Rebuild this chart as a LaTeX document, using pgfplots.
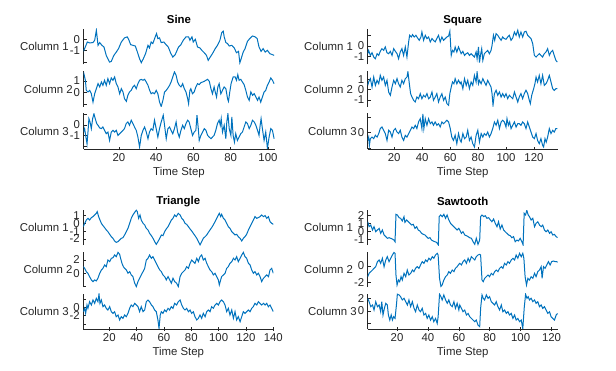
\documentclass[border=0pt]{standalone}
\usepackage{fontspec}
\setmainfont{Liberation Sans}
\usepackage{pgfplots}
\pgfplotsset{compat=1.18}
\definecolor{axgray}{RGB}{38,38,38}
\definecolor{mblue}{RGB}{0,114,189}
\newcommand\fsz{\fontsize{11.4bp}{13bp}\selectfont}
\pgfplotsset{
 row/.style={scale only axis, axis y line=left, tick align=inside, major tick length=3bp,
   axis line style={-, draw=axgray, line width=0.6bp},
   major tick style={draw=axgray, line width=0.6bp},
   ticklabel style={font=\fsz, text=axgray},
   every axis y label/.style={at={(ticklabel cs:0.5)}, anchor=east, inner sep=0.5bp, xshift=3bp, font=\fsz, text=axgray},
   xlabel style={font=\fsz, text=axgray, yshift=2bp},
   every axis title/.style={font=\fsz\bfseries, text=black, at={(0.5,1)}, anchor=base, yshift=5bp}},
 upper/.style={axis x line=none, xtick=\empty},
 lower/.style={axis x line=bottom, xlabel={Time Step}, x axis line style={-},
   every outer x axis line/.append style={-}, every inner x axis line/.append style={-}},
 ln/.style={color=mblue, line width=1bp, mark=none},
 sine/.style={xmin=1, xmax=103.5, width=191bp, height=35.5bp},
 square/.style={xmin=1, xmax=137, width=190bp, height=35.5bp},
 tri/.style={xmin=1, xmax=140, width=190bp, height=35.2bp},
 saw/.style={xmin=1, xmax=124, width=190bp, height=35.2bp},
}
\begin{document}
\begin{tikzpicture}
\useasboundingbox (0,0) rectangle (616bp,371bp);
% ---------------- Sine ----------------
\begin{axis}[row, sine, upper, at={(83.5bp,306.5bp)}, anchor=south west,
  ymin=-2.21, ymax=0.9, ytick={-2,-1,0}, yticklabels={,-1,0}, ylabel={Column 1}, title={Sine}]
\addplot[ln] coordinates {(1,-1.06)(3.05,-0.24)(4.3,-0.32)(6.1,-0.29)(7,-0.09)(7.9,0.79)(8.8,-0.53)(9.7,-0.29)(10.9,-0.53)(12,-0.68)(13.2,-1.41)(15,-2.0)(15.9,-1.94)(17.3,-1.41)(18.6,-1.12)(19.8,-0.82)(21.3,-0.24)(23,0.12)(24.5,0.21)(25.2,0)(26.3,-0.47)(27.5,-0.53)(28.8,-0.59)(29.8,-1.06)(31.1,-1.71)(32,-2.05)(33.1,-1.71)(34.3,-1.26)(35.6,-0.53)(36.4,-0.76)(37.3,-0.24)(38.2,-0.38)(39.5,0.21)(40.2,0.5)(40.9,0.06)(41.8,0.12)(42.7,-0.29)(44.1,-0.24)(45.3,-0.47)(46.5,-0.68)(47.7,-1.18)(48.9,-1.56)(50.2,-1.35)(52,-0.68)(53.3,-0.47)(54.5,-0.09)(56,0.21)(57.4,0.21)(58.1,-0.09)(59.2,0.21)(59.9,-0.24)(61,0)(62.2,-0.68)(63.5,-0.76)(64.5,-0.97)(65.8,-1.18)(67,-1.41)(67.9,-1.85)(69,-1.56)(70.2,-1.26)(71.7,-0.82)(72.9,-0.53)(74.2,-0.09)(75.2,0.59)(76,0.71)(76.5,0.21)(77.4,-0.29)(78.3,-0.38)(79.2,-0.59)(80.6,-0.53)(81.9,-0.76)(83.1,-1.18)(84.2,-1.06)(84.9,-2.05)(85.6,-1.71)(86.7,-1.12)(87.7,-0.82)(89,-0.18)(90.2,0.06)(91.7,0.29)(93.1,0.21)(94.2,0.06)(95.2,-0.68)(96.3,-1.06)(97.4,-0.82)(98.5,-1.12)(99.7,-0.97)(101,-1.26)(102.4,-1.35)(103.3,-1.41)};
\end{axis}
\begin{axis}[row, sine, upper, at={(83.5bp,264.25bp)}, anchor=south west,
  ymin=-1.2, ymax=1.83, ytick={-1,0,1}, yticklabels={,0,1}, ylabel={Column 2}]
\addplot[ln] coordinates {(1,1.77)(2,1.06)(2.5,0.2)(3.4,0.06)(4.3,0.2)(5.2,-0.09)(6.1,-0.8)(7,-0.09)(7.9,0.34)(8.8,0.77)(9.7,0.49)(10.6,0.91)(11.4,0.63)(12.3,1.06)(13.2,0.63)(14.1,1.2)(15,0.77)(15.9,1.26)(16.8,1.06)(17.7,1.34)(18.6,0.77)(19.5,0.49)(20.4,-0.09)(21.3,0.34)(22.2,0.06)(23,-0.51)(24,-0.74)(24.8,-0.23)(25.7,0.06)(26.6,0.2)(27.5,0.49)(28.4,0.63)(29.3,0.34)(30.2,0.77)(31.1,1.06)(32,1.14)(32.9,1.06)(33.8,1.14)(34.7,0.91)(35.6,0.63)(36.5,0.2)(37.3,-0.09)(38.2,0)(39.1,-0.09)(40,0.2)(40.9,-0.09)(41.8,-0.8)(42.7,-1.18)(43.6,-0.66)(44.5,0.06)(45.4,0.2)(46.3,0.4)(47.2,0.63)(48,0.91)(48.9,1.34)(49.8,1.77)(50.7,1.49)(51.5,0.91)(52.4,0.63)(53.3,0.49)(54.2,0.77)(55.1,0.34)(56,0.06)(56.9,-0.51)(57.4,-0.94)(58.1,0.2)(58.6,0.34)(59.5,-0.09)(60.4,0.06)(61.3,0.49)(62.2,0.77)(63.1,0.69)(64,0.86)(64.9,0.91)(65.8,0.97)(66.7,1.06)(67.6,1.14)(68.5,0.97)(69.4,0.34)(70.2,-0.09)(71.1,0.49)(71.7,0.06)(72.4,-0.37)(73.1,0.49)(73.8,0.77)(74.7,-0.09)(75.6,0.2)(76.5,0.49)(77.4,0.34)(78.3,-0.51)(78.8,-0.74)(79.5,0.06)(80.2,0.77)(81.3,1.34)(82.4,1.34)(83.1,1.06)(83.8,1.54)(84.5,1.06)(85.4,1.14)(86.3,0.91)(87.2,0.69)(88.1,0.2)(89,-0.37)(89.9,-0.66)(90.8,0.06)(91.7,-0.23)(92.6,-0.09)(93.5,-0.37)(94.4,-0.66)(95.2,-0.37)(96.1,-0.8)(97,-0.37)(97.9,0.06)(98.8,0.2)(99.7,0.63)(100.6,0.91)(101.5,1.26)(102.4,1.06)(103.3,0.77)};
\end{axis}
\begin{axis}[row, sine, lower, at={(83.5bp,222bp)}, anchor=south west,
  ymin=-2.24, ymax=1.07, ytick={-2,-1,0,1}, yticklabels={,-1,0,}, ylabel={Column 3},
  xtick={20,40,60,80,100}, xticklabels={20,40,60,80,100}]
\addplot[ln] coordinates {(1,-0.66)(1.6,-0.34)(2.3,-1.13)(2.9,-1.75)(3.4,-0.66)(3.9,0.59)(4.5,0.28)(5.2,-0.34)(5.9,0.59)(6.6,1.04)(7.3,0.59)(8.1,0.13)(8.8,-0.03)(9.7,-0.28)(10.6,-0.34)(11.4,-0.19)(12.3,-0.5)(13.2,-0.81)(14.1,-0.66)(15,-1.44)(15.9,-0.66)(16.8,-0.5)(17.7,-0.66)(18.6,-0.5)(19.5,-0.97)(20.4,-0.81)(21.3,-0.66)(22.2,-0.5)(23,-0.34)(23.9,0.13)(24.8,0.28)(25.7,-0.03)(26.6,0.44)(27.5,0.13)(28.4,-0.19)(29.3,-0.5)(30.2,-1.13)(31.1,-2.06)(32,-0.97)(32.9,-0.5)(33.8,-0.19)(34.7,-0.66)(35.6,-1.28)(36.4,-0.66)(37.3,-0.34)(38.2,-0.5)(39.1,0.44)(40,-0.34)(40.9,-1.13)(41.8,-0.34)(42.7,0.28)(43.8,0.91)(44.5,-0.03)(45.4,-1.28)(46.3,-0.34)(47.2,-0.19)(48,-0.5)(48.9,-0.81)(49.8,-0.34)(50.7,0.28)(51.5,-0.66)(52.4,-1.13)(53.3,-0.5)(54.2,-0.03)(55.1,-0.34)(56,0.13)(56.9,0.44)(57.7,0.28)(58.6,-0.34)(59.5,-0.97)(60.4,-0.66)(61.3,-0.5)(61.9,0.91)(62.6,-0.34)(63.1,-1.44)(64,-0.97)(64.9,-0.66)(65.8,-0.34)(66.7,-0.5)(67.6,-0.97)(68.5,-1.13)(69.4,-1.28)(70.2,-1.13)(71.1,-0.97)(72,-0.5)(72.9,0.13)(73.8,0.44)(74.4,-0.03)(74.9,0.59)(75.6,-0.66)(76.5,-0.03)(77.4,-1.28)(77.9,0.28)(78.5,1.04)(79.2,-0.34)(80.1,-0.97)(80.6,0.75)(81.3,-0.97)(82,-1.59)(82.7,-0.81)(83.6,-1.44)(84.5,-1.13)(85.4,-0.81)(86.3,-0.66)(87.2,-0.19)(88.1,0.28)(89,0.13)(89.9,-0.34)(90.8,-0.03)(91.7,0.44)(92.6,0.28)(93.5,-0.03)(94.4,-0.5)(95.2,-0.97)(95.8,-0.03)(96.3,0.59)(97,-0.34)(97.9,-1.44)(98.8,-0.66)(99.7,-2.2)(100.6,-1.13)(101.5,-0.34)(102.4,-0.5)(103.3,-1.28)};
\end{axis}
% ---------------- Square ----------------
\begin{axis}[row, square, upper, at={(367.7bp,306.5bp)}, anchor=south west,
  ymin=-1.73, ymax=1.59, ytick={-1,0,1}, yticklabels={-1,0,}, ylabel={Column 1}, title={Square}]
\addplot[ln] coordinates {(1,-0.72)(1.7,-0.41)(2.9,-0.88)(4.1,-0.63)(5.3,-1.03)(6.5,-1.19)(7.7,-0.72)(8.9,-0.88)(10,-0.5)(11.2,-0.25)(12.4,-0.41)(13.6,-0.09)(14.8,-0.63)(16,-0.72)(17.2,-0.5)(18.4,-0.88)(19.6,-0.25)(20.8,-0.5)(22,-0.72)(23.1,-1.19)(24.3,-0.56)(25.5,-0.25)(26.7,-0.88)(27.9,-0.09)(29.1,-1.03)(30.3,0.38)(31,1.0)(32.2,0.84)(33.1,1.06)(34.3,0.84)(35.5,1.0)(36.7,0.75)(37.9,0.53)(39.1,0.84)(39.8,1.31)(41,0.53)(42.2,1.0)(43.4,0.69)(44.6,0.84)(45.8,0.38)(47,0.69)(48.1,0.53)(49.3,0.38)(50.5,0.69)(51.7,1.0)(52.9,0.38)(54.1,0.84)(55.3,0.53)(56.5,0.69)(57.7,0.84)(58.9,0.94)(59.8,1.38)(60.8,-0.88)(61.7,-0.41)(62.7,-0.56)(63.6,-0.09)(64.8,-0.56)(66,-0.09)(67.9,-0.72)(69.1,-0.5)(70.3,-0.88)(71.5,-0.72)(72.6,-0.63)(73.8,-0.88)(75,-0.72)(76.2,-0.88)(77.4,-1.03)(78.6,-0.56)(79.3,-1.19)(80.3,-0.09)(81,-1.56)(81.7,-0.88)(82.6,-0.25)(83.4,-1.34)(84.5,-0.72)(85.7,-0.56)(86.9,-0.41)(88.1,-0.72)(89.3,-0.41)(90,0.06)(91,1.0)(91.9,0.53)(92.9,1.16)(94.1,1.0)(95.3,0.75)(96.5,0.53)(97.6,0.84)(98.8,0.69)(100,0.63)(101.2,0.84)(102.4,1.0)(103.6,0.53)(104.8,0.75)(106,1.31)(107.2,1.0)(108.4,1.47)(109.5,0.84)(110.7,1.31)(111.9,0.84)(113.1,1.31)(114.3,1.38)(115.5,1.0)(116.7,0.84)(117.9,0.69)(119.1,0.22)(120.3,-0.88)(121.5,-1.03)(122.6,-0.88)(123.8,-0.72)(125,-0.88)(126.2,-1.03)(127.4,-0.72)(128.6,-0.56)(129.8,-0.25)(131,-0.88)(132.2,-0.56)(133.4,-0.41)(134.5,-0.88)(135.7,-1.34)(136.7,-1.5)};
\end{axis}
\begin{axis}[row, square, upper, at={(367.7bp,264.25bp)}, anchor=south west,
  ymin=-1.67, ymax=1.77, ytick={-1,0,1}, yticklabels={-1,0,1}, ylabel={Column 2}]
\addplot[ln] coordinates {(1,0.4)(1.7,0.73)(2.9,1.05)(4.1,0.24)(5.3,1.21)(6.5,0.4)(7.7,0.89)(8.9,0.56)(10,1.37)(11.2,0.89)(12.4,1.21)(13.6,0.4)(14.8,0.89)(16,-0.24)(17.2,-0.56)(18.4,0.24)(19.6,0.89)(20.8,0.56)(22,1.05)(23.1,0.56)(24.3,0.24)(25.5,0.89)(26.7,0.56)(27.9,1.05)(29.1,1.21)(29.8,1.72)(30.8,0.56)(31.7,-0.4)(32.7,-0.73)(33.9,-1.05)(35,-1.21)(36.2,-0.73)(37.4,-0.89)(38.6,-0.4)(39.8,-0.89)(41,-0.56)(42.2,-0.73)(43.4,-0.4)(44.6,-0.89)(45.8,-0.73)(47,-0.24)(48.1,-1.05)(49.3,-0.73)(50.5,-0.4)(51.7,-1.21)(52.9,-0.73)(54.1,-0.4)(55.3,-1.05)(56.5,-0.73)(57.7,-1.37)(58.9,-1.53)(59.8,-0.4)(60.8,0.24)(61.7,0.73)(62.7,0.56)(63.6,1.05)(64.8,0.56)(66,0.89)(67.2,0.56)(67.9,0.73)(69.1,0.08)(70.3,1.05)(71.5,0.4)(72.6,0.89)(73.8,0.08)(75,0.73)(76.2,0.4)(77.4,1.37)(78.6,0.73)(79.3,1.69)(80.3,0.56)(81,0.89)(82.2,0.56)(83.4,1.05)(84.5,0.73)(85.7,0.4)(86.9,0.89)(88.1,0.56)(89.3,0.24)(90,-0.4)(90.7,-1.53)(91.7,-0.4)(92.9,-0.08)(94.1,-0.56)(95.3,-0.24)(96.5,-0.73)(97.6,-0.4)(98.8,-0.73)(100,-0.4)(101.2,-0.89)(102.4,-0.56)(103.6,-0.73)(104.8,-0.89)(106,-0.24)(107.2,-0.73)(108.4,-1.21)(109.5,-0.73)(110.7,-0.4)(111.9,-0.89)(113.1,-0.4)(114.3,-0.08)(115.5,-0.4)(116.7,-1.05)(117.4,-1.37)(118.4,-0.56)(119.8,0.08)(120.7,0.56)(121.5,1.21)(122.6,0.73)(123.8,1.37)(125,0.56)(126.2,1.37)(127.4,0.4)(128.6,0.56)(129.8,0.89)(131,1.37)(132.2,0.73)(133.4,0.08)(134.5,-0.08)(135.7,0.08)(136.7,0.08)};
\end{axis}
\begin{axis}[row, square, lower, at={(367.7bp,222bp)}, anchor=south west,
  ymin=-1.04, ymax=1.22, ytick={-1,0,1}, yticklabels={,0,}, ylabel={Column 3},
  xtick={20,40,60,80,100,120}, xticklabels={20,40,60,80,100,120}]
\addplot[ln] coordinates {(1,-0.49)(1.7,-0.28)(2.2,-0.81)(2.9,-0.38)(4.1,-0.28)(5.3,-0.38)(6.5,-0.17)(7.7,-0.28)(8.9,-0.06)(10,0.26)(11.2,0.36)(12.4,0.15)(13.6,-0.06)(14.8,-0.49)(16,0.15)(17.2,0.04)(18.4,-0.28)(19.6,0.15)(20.8,0.26)(22,0.04)(23.1,-0.06)(24.3,0.15)(25.5,-0.28)(26.7,-0.49)(27.9,-0.17)(29.1,-0.28)(30.3,-0.06)(31.5,0.15)(32.7,0.36)(33.9,0.26)(35,0.47)(36.2,0.26)(37.4,0.68)(38.6,0.89)(39.8,0.26)(40.5,1.2)(41.2,0.26)(42.2,0.89)(43.4,0.47)(44.6,0.89)(45.8,0.57)(47,0.68)(48.1,0.47)(49.3,0.68)(50.5,0.47)(51.7,0.57)(52.9,0.36)(54.1,0.68)(55.3,0.57)(56.5,0.68)(57.7,0.79)(58.9,0.68)(60.1,0.26)(61.2,-0.28)(62.4,-0.49)(63.6,-0.17)(64.8,-0.7)(66,-0.06)(67.2,-0.49)(67.9,-0.6)(69.1,-0.06)(70.3,-0.38)(71.5,-0.28)(72.6,0.15)(73.8,-0.49)(75,-0.28)(76.2,-0.7)(77.4,-0.91)(78.6,-0.17)(79.8,0.15)(81,-0.6)(82.2,-0.06)(83.4,-0.28)(84.5,-0.06)(85.7,-0.17)(86.9,0.04)(88.1,-0.28)(89.3,-0.06)(90.5,0.26)(91.7,0.68)(92.9,0.47)(94.1,0.79)(95.3,0.26)(96.5,0.68)(97.6,0.79)(98.8,0.68)(100,0.36)(100.7,0.89)(101.7,0.47)(102.6,0.68)(103.6,0.26)(104.8,0.47)(106,0.68)(107.2,0.36)(108.4,0.57)(109.5,0.57)(110.7,0.47)(111.9,0.68)(113.1,0.57)(114.3,0.26)(115.5,0.68)(116.7,0.36)(117.9,0.04)(119.1,-0.28)(120.3,-0.38)(121.5,-0.06)(122.6,-0.49)(123.8,-0.7)(125,-0.38)(126.2,-0.81)(126.9,-0.91)(127.9,-0.38)(128.8,-0.6)(129.8,-0.28)(131,0.26)(132.2,-0.06)(133.4,0.15)(134.5,0.04)(135.7,0.26)(136.7,0.26)};
\end{axis}
% ---------------- Triangle ----------------
\begin{axis}[row, tri, upper, at={(83.3bp,125.8bp)}, anchor=south west,
  ymin=-2.82, ymax=1.75, ytick={-2,-1,0,1}, yticklabels={-2,-1,0,1}, ylabel={Column 1}, title={Triangle}]
\addplot[ln] coordinates {(1,-0.41)(2,0.02)(3.2,0.45)(4.4,0.67)(5.6,0.45)(6.9,0.76)(8.1,0.89)(9.3,1.1)(10.5,1.32)(11.2,1.54)(12.2,0.89)(13.2,0.45)(14.2,0.02)(15.4,-0.28)(16.6,-0.54)(17.8,-0.84)(19,-1.06)(20.3,-1.41)(21.5,-1.71)(22.7,-1.93)(23.9,-2.27)(25.1,-2.45)(26.4,-2.36)(27.6,-2.14)(28.8,-1.93)(30,-1.84)(31.2,-1.49)(32.5,-1.06)(33.7,-0.63)(34.9,0.02)(36.1,0.67)(37.3,1.1)(38.6,1.45)(39.8,1.72)(40.5,1.54)(41.5,0.67)(42.5,1.1)(43.4,0.45)(44.7,0.02)(45.9,-0.19)(47.1,-0.63)(48.3,-0.84)(49.5,-1.28)(50.8,-1.58)(52,-1.93)(53.2,-2.36)(54.4,-2.71)(55.6,-2.36)(56.9,-1.93)(58.1,-1.49)(59.3,-1.58)(60.5,-1.06)(61.7,-0.71)(63,-0.41)(64.2,0.02)(65.4,0.45)(66.6,0.67)(67.8,1.1)(69,0.89)(70.5,1.32)(71.8,1.1)(73,0.67)(74.2,0.45)(75.4,0.02)(76.6,-0.11)(77.9,-0.41)(79.1,-0.71)(80.3,-0.97)(81.5,-1.28)(82.7,-1.58)(84,-1.93)(85.2,-2.36)(86.4,-2.78)(87.6,-2.36)(88.8,-1.93)(90.1,-1.71)(91.3,-1.49)(92.5,-1.15)(93.7,-0.84)(94.9,-0.54)(96.1,-0.19)(97.4,0.24)(98.6,0.67)(99.8,1.1)(100.5,1.32)(101.5,0.89)(102.2,1.19)(103.5,0.67)(104.7,0.45)(105.9,0.02)(107.1,-0.41)(108.3,-0.63)(109.6,-1.06)(110.8,-1.28)(112,-1.49)(113.2,-1.41)(114.4,-1.71)(115.7,-1.93)(116.9,-2.27)(118.1,-1.93)(119.3,-1.71)(120.5,-1.41)(121.8,-0.84)(123,-0.41)(124.2,0.02)(125.4,0.45)(126.6,0.89)(127.9,0.67)(129.1,0.76)(130.3,0.89)(131.5,1.1)(132.8,0.89)(134,1.02)(135.2,0.67)(136.4,0.89)(137.6,0.24)(138.8,0.02)(140,-0.11)};
\end{axis}
\begin{axis}[row, tri, upper, at={(83.3bp,83.9bp)}, anchor=south west,
  ymin=-2.08, ymax=3.22, ytick={-2,0,2}, yticklabels={,0,2}, ylabel={Column 2}]
\addplot[ln] coordinates {(1,1.0)(2,0.75)(3.2,0.25)(4.4,0)(5.6,-0.5)(6.9,-1.0)(8.1,-1.25)(9.3,-1.0)(10.5,-1.15)(11.7,-0.75)(13,0)(14.2,0.5)(15.4,0.75)(16.6,1.25)(17.8,1.0)(19,2.0)(20.3,1.75)(21.5,2.25)(22.7,2.35)(23.9,2.75)(25.1,2.5)(26.4,3.15)(27.6,2.85)(28.3,2.25)(29.3,1.5)(30.3,1.0)(31.2,0.75)(32.5,0.5)(33.7,0)(34.9,0.25)(36.1,-0.25)(37.3,-0.5)(38.6,-1.5)(39.8,-2.0)(41,-1.25)(42.2,-0.75)(43.4,-0.25)(44.7,0.25)(45.9,0.75)(47.1,2.0)(48.3,2.25)(49.5,2.75)(50.8,2.25)(52,2.5)(53.2,2.0)(54.4,1.5)(55.6,1.0)(56.9,0.5)(58.1,0.25)(59.3,-0.25)(60.5,-0.5)(61.7,-1.0)(63,-0.5)(64.2,-1.0)(65.4,-1.5)(66.6,-0.75)(67.8,-1.25)(69.3,-1.5)(70.5,-2.0)(71.8,-0.5)(73,0)(74.2,0.25)(75.4,0.5)(76.6,1.0)(77.9,0.75)(79.1,1.5)(80.3,2.0)(81.5,1.75)(82.7,1.5)(84,2.25)(85.2,1.75)(86.4,2.5)(87.6,2.75)(88.8,2.0)(90.1,2.25)(91.3,1.5)(92.5,1.0)(93.7,0.5)(94.9,0.25)(96.1,-0.25)(97.4,0)(98.6,-0.5)(99.8,-1.0)(100.5,-1.75)(101.5,-1.0)(102.2,-0.5)(103.5,-0.25)(104.7,0)(105.9,0.75)(107.1,1.0)(108.3,1.5)(109.6,1.75)(110.8,2.25)(112,2.0)(113.2,2.5)(114.4,1.75)(115.7,2.25)(116.9,2.75)(118.1,3.15)(119.3,2.5)(120.5,2.25)(121.8,1.5)(123,1.25)(124.2,0.5)(125.4,0)(126.6,0.25)(127.9,-0.25)(129.1,0)(130.3,-0.5)(131.5,-1.25)(132.8,-0.75)(134,-0.5)(135.2,-0.25)(136.5,-0.5)(137.6,0.5)(138.8,0.75)(140,0)};
\end{axis}
\begin{axis}[row, tri, lower, at={(83.3bp,42bp)}, anchor=south west,
  ymin=-5.25, ymax=3.23, ytick={-4,-2,0,2}, yticklabels={,-2,0,}, ylabel={Column 3},
  xtick={20,40,60,80,100,120,140}, xticklabels={20,40,60,80,100,120,140}]
\addplot[ln] coordinates {(1,-1.08)(2,-0.27)(2.7,-1.48)(3.7,0.53)(4.4,-0.27)(5.6,1.33)(6.9,0.53)(8.1,1.73)(9.3,0.93)(10.5,2.14)(11.7,1.33)(12.5,3.15)(13.2,0.93)(14.2,1.73)(15.4,0.13)(16.6,0.53)(17.8,-0.27)(19,-0.67)(20.3,0.13)(21.5,-1.08)(22.7,-1.48)(23.9,-1.08)(25.1,-2.28)(26.4,-1.88)(27.6,-3.08)(28.8,-2.28)(30,-2.68)(31.2,-1.88)(32.5,-2.28)(33.7,-1.48)(34.9,-0.27)(36.1,0.53)(37.3,0.13)(38.6,0.93)(39.8,0.53)(41,0.13)(42.2,-1.08)(43.4,0.13)(44.7,-1.08)(45.9,-0.67)(47.1,1.33)(48.3,1.73)(49.5,1.33)(50.8,0.53)(52,0.13)(53.2,-0.67)(54.4,-1.08)(55.6,-3.08)(56.4,-5.09)(57.3,-1.88)(58.1,-1.08)(59.3,-1.48)(60.5,-0.67)(61.7,-1.08)(63,-0.27)(64.2,-0.67)(65.4,0.13)(66.6,-0.27)(67.8,0.93)(69.3,0.53)(70.5,1.33)(71.8,1.73)(73,0.53)(74.2,-0.27)(75.4,-0.67)(76.6,-0.27)(77.9,-1.08)(79.1,-0.67)(80.3,-1.48)(81.5,-1.08)(82.7,-2.28)(84,-3.08)(85.2,-2.68)(86.4,-1.88)(87.6,-2.68)(88.8,-1.48)(90.1,-2.28)(91.3,-1.08)(92.5,-0.67)(93.7,-1.08)(94.9,0.13)(96.1,-0.27)(97.4,0.53)(98.6,0.93)(99.8,0.53)(101,1.33)(102.2,1.73)(103.5,1.33)(104.7,0.53)(105.9,-1.08)(107.1,-0.27)(108.3,-1.88)(109.6,-0.67)(110.8,-2.68)(112,-1.08)(113.2,-3.08)(114.4,-2.28)(115.7,-3.49)(116.9,-2.28)(118.1,-1.08)(119.3,-1.48)(120.5,-1.08)(121.8,-0.67)(123,-1.08)(124.2,-0.27)(125.4,0.13)(126.6,0.93)(127.9,0.53)(129.1,1.33)(130.3,0.93)(131.5,0.53)(132.8,0.93)(134,0.53)(135.2,0.93)(136.4,0.13)(137.6,0.53)(138.8,-0.27)(140,-1.08)};
\end{axis}
% ---------------- Sawtooth ----------------
\begin{axis}[row, saw, upper, at={(367.7bp,125.8bp)}, anchor=south west,
  ymin=-1.73, ymax=2.72, ytick={-1,0,1,2}, yticklabels={-1,0,1,2}, ylabel={Column 1}, title={Sawtooth}]
\addplot[ln] coordinates {(1,1.24)(1.9,0.61)(3,0.82)(4.1,0.19)(5.1,0.61)(6.2,-0.02)(7.3,0.19)(8.4,0.4)(9.4,-0.23)(10.5,0.19)(11.6,-0.44)(12.7,-0.65)(13.7,-0.86)(14.8,-0.78)(15.9,-0.86)(17,-0.95)(18,-1.08)(18.7,-1.29)(19.3,2.17)(20.2,2.09)(21.3,1.75)(22.3,1.67)(23.4,1.33)(24.5,1.88)(25.1,1.16)(26.2,1.46)(27.3,1.24)(28.4,1.03)(29.4,0.82)(30.5,0.91)(31.6,0.4)(32.7,0.61)(33.7,0.19)(34.8,0.06)(35.9,-0.23)(37,-0.36)(38.1,-0.44)(39.1,-0.65)(40.2,-0.86)(41.3,-0.78)(42.3,-1.08)(43.4,-1.2)(44.5,-1.29)(45.6,-1.37)(46.7,-1.68)(47.3,1.88)(48.2,2.09)(49.3,1.88)(50.3,2.17)(51.4,1.67)(52.4,2.09)(53.5,1.46)(54.6,1.03)(55.7,0.82)(56.7,0.61)(57.8,0.4)(58.9,0.19)(60,0.4)(60.6,0.19)(61.7,-0.23)(62.7,-0.02)(63.8,-0.44)(64.9,-0.53)(66,-0.65)(67,-0.78)(68.1,-0.86)(69.2,-1.29)(70.3,-1.62)(71.3,-0.86)(72.4,-1.62)(73.5,-1.08)(74.1,1.88)(75,2.09)(76.1,1.88)(77.1,2.0)(78.2,1.67)(79.3,1.75)(80.4,1.46)(81.4,1.24)(82.5,1.58)(83.6,1.03)(84.7,0.61)(85.7,1.24)(86.8,0.32)(87.9,0.82)(89,0.19)(90,-0.02)(91.1,-0.23)(92.2,-0.44)(93.3,-0.53)(94.3,-0.78)(95.4,-0.65)(96.5,-1.29)(97.6,-1.08)(98.6,-1.2)(99.7,-0.86)(100.8,-1.29)(101.6,-1.68)(102.3,2.3)(103.2,2.09)(104,2.68)(104.9,2.09)(105.7,1.88)(106.8,1.46)(107.9,1.67)(109,0.61)(110,1.03)(111.1,1.24)(112.2,0.82)(113.3,0.61)(114.3,0.82)(115.4,0.19)(116.5,-0.02)(117.6,0.19)(118.7,-0.23)(119.7,-0.02)(120.8,-0.44)(121.9,-0.36)(123,-0.65)(124,-0.78)};
\end{axis}
\begin{axis}[row, saw, upper, at={(367.7bp,83.9bp)}, anchor=south west,
  ymin=-2.53, ymax=1.69, ytick={-2,0}, yticklabels={-2,0}, ylabel={Column 2}]
\addplot[ln] coordinates {(1,-1.28)(1.9,-0.88)(3,-0.68)(4.1,-0.48)(5.1,-0.28)(6.2,-0.08)(7.3,0.52)(8.4,0.72)(9.4,0.32)(10.5,0.92)(11.6,-0.08)(12.7,0.72)(13.7,1.12)(14.8,0.52)(15.9,0.92)(17,1.32)(18,1.62)(18.7,1.52)(19.3,-1.08)(20,-2.28)(20.9,-1.68)(21.7,-1.88)(22.6,-1.28)(23.4,-1.68)(24.5,-0.88)(25.6,-1.28)(26.6,-0.48)(27.7,-1.08)(28.8,-0.88)(29.9,-0.48)(30.9,-0.68)(32,-0.28)(33.1,-0.08)(34.2,-0.28)(35.2,0.12)(36.3,0.52)(37.4,0.32)(38.5,0.72)(39.5,0.52)(40.6,0.92)(41.7,0.72)(42.8,1.12)(43.8,0.92)(44.9,1.32)(46,1.52)(46.6,1.32)(47.5,-1.48)(48.4,-2.45)(49.2,-2.28)(50.3,-1.68)(51.4,-1.28)(52.5,-1.08)(53.5,-0.68)(54.6,-0.88)(55.7,-0.48)(56.8,-0.68)(57.8,-0.28)(58.9,-0.08)(60,0.2)(60.6,0.32)(61.7,0.12)(62.7,0.52)(63.8,0.72)(64.9,0.32)(66,0.92)(67,0.52)(68.1,1.12)(69.2,0.92)(70.3,0.72)(71.3,1.12)(72.4,1.32)(73.5,1.4)(74.1,1.32)(75,-1.68)(75.8,-1.88)(76.7,-1.48)(77.8,-1.28)(78.9,-1.08)(79.9,-1.28)(81,-0.88)(82.1,-1.08)(83.2,-0.68)(84.2,-0.48)(85.3,-0.68)(86.4,-0.28)(87.5,-0.08)(88.5,-0.28)(89.6,0.32)(90.7,0.12)(91.8,0.52)(92.8,0.32)(93.9,0.72)(95,0.92)(96.1,0.72)(97.1,1.32)(98.2,0.92)(99.3,1.52)(100.4,1.12)(101.4,1.52)(102.1,0.92)(102.9,-1.28)(103.8,-2.28)(104.7,-1.48)(105.7,-1.68)(106.8,-1.28)(107.9,-1.48)(109,-0.88)(110,-1.28)(111.1,-0.68)(112.2,-0.48)(113.3,-0.08)(113.9,-1.48)(114.8,-0.08)(115.8,-0.28)(116.9,0.12)(118,0.52)(119.1,0.12)(120.1,0.52)(121.2,0.6)(122.3,0.52)(123.4,0.52)(124,0.44)};
\end{axis}
\begin{axis}[row, saw, lower, at={(367.7bp,42bp)}, anchor=south west,
  ymin=-2.83, ymax=2.71, ytick={-2,0,2}, yticklabels={,0,2}, ylabel={Column 3},
  xtick={20,40,60,80,100,120}, xticklabels={20,40,60,80,100,120}]
\addplot[ln] coordinates {(1,2.0)(1.9,1.47)(3,0.68)(4.1,0.95)(5.1,0.16)(6.2,1.47)(7.3,0.68)(8.4,0.95)(9.4,-0.11)(10.1,1.47)(10.9,-0.63)(11.8,0.42)(12.7,1.21)(13.7,0.95)(14.4,-0.63)(15.3,-1.42)(16.2,-0.63)(17,-1.42)(17.8,-0.89)(18.7,-1.16)(19.6,0.95)(20.2,2.65)(21.3,2.53)(22.3,2.26)(23.4,1.74)(24.5,2.0)(25.6,1.47)(26.7,0.95)(27.7,1.74)(28.8,0.68)(29.9,1.47)(31,0.42)(32,-0.11)(33.1,0.95)(34.2,0.16)(35.2,-0.11)(36.3,0.42)(37.4,-0.63)(38.5,-0.37)(39.5,-1.16)(40.6,-0.63)(41.7,-1.42)(42.8,-0.89)(43.8,-1.68)(44.9,-1.16)(46,-1.95)(46.6,-0.89)(47.5,2.65)(48.4,2.26)(49.2,1.74)(50.3,2.53)(51.4,1.74)(52.5,1.21)(53.5,1.74)(54.6,0.95)(55.7,0.68)(56.8,1.47)(57.8,0.42)(58.9,1.21)(60,0.16)(60.6,0.95)(61.7,0.42)(62.7,-0.11)(63.8,0.16)(64.9,-0.63)(66,-0.37)(67,-0.89)(68.1,-1.16)(69.2,-1.42)(70.3,-1.68)(71.3,-1.42)(72.4,-2.21)(73.5,-2.47)(74.1,0.42)(75,2.53)(75.8,2.0)(76.7,1.74)(77.8,2.53)(78.9,2.0)(79.9,2.26)(81,1.47)(82.1,1.21)(83.2,0.95)(84.2,1.47)(85.3,0.68)(86.4,0.16)(87.5,0.95)(88.5,-0.11)(89.6,0.16)(90.7,-0.37)(91.8,-0.11)(92.8,-0.63)(93.9,-0.37)(95,-1.16)(96.1,-0.63)(97.1,-1.42)(98.2,-1.16)(99.3,-1.68)(100.4,-1.42)(101.4,-2.8)(102.3,0.42)(103.2,2.63)(104.1,2.0)(104.9,2.26)(105.7,1.74)(106.8,2.0)(107.9,1.47)(109,1.74)(110,1.21)(111.1,1.47)(112.2,0.68)(113.3,0.95)(114.3,0.42)(115.4,0.68)(116.5,0.16)(117.6,-0.37)(118.7,-0.11)(119.7,-0.89)(120.8,-1.16)(121.9,-1.42)(123,-0.63)(124,-0.37)};
\end{axis}
\end{tikzpicture}
\end{document}
